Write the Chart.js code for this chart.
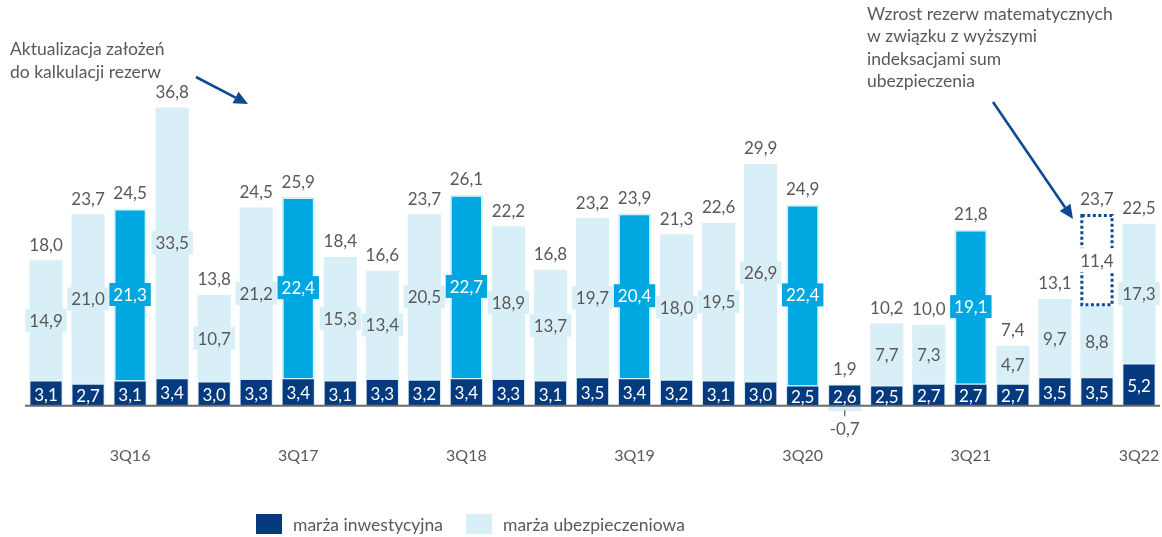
<!DOCTYPE html>
<html>
<head>
<meta charset="utf-8">
<script src="https://cdn.jsdelivr.net/npm/chart.js@4.4.1/dist/chart.umd.min.js"></script>
<style>
html,body{margin:0;padding:0;background:#fff;}
#wrap{position:relative;width:1162px;height:537px;}
</style>
</head>
<body>
<div id="wrap"><canvas id="c" width="1162" height="537"></canvas></div>
<script>
// ---- data ----
const quarters = ['1Q16','2Q16','3Q16','4Q16','1Q17','2Q17','3Q17','4Q17','1Q18','2Q18','3Q18','4Q18',
  '1Q19','2Q19','3Q19','4Q19','1Q20','2Q20','3Q20','4Q20','1Q21','2Q21','3Q21','4Q21','1Q22','2Q22','3Q22'];
const investmentMargin = [3.1,2.7,3.1,3.4,3.0,3.3,3.4,3.1,3.3,3.2,3.4,3.3,3.1,3.5,3.4,3.2,3.1,3.0,2.5,2.6,2.5,2.7,2.7,2.7,3.5,3.5,5.2];
const insuranceMargin = [14.9,21.0,21.3,33.5,10.7,21.2,22.4,15.3,13.4,20.5,22.7,18.9,13.7,19.7,20.4,18.0,19.5,26.9,22.4,-0.7,7.7,7.3,19.1,4.7,9.7,8.8,17.3];
const reserveIncrease = [null,null,null,null,null,null,null,null,null,null,null,null,null,null,null,null,null,null,null,null,null,null,null,null,null,11.4,null];
const totals = [18.0,23.7,24.5,36.8,13.8,24.5,25.9,18.4,16.6,23.7,26.1,22.2,16.8,23.2,23.9,21.3,22.6,29.9,24.9,1.9,10.2,10.0,21.8,7.4,13.1,23.7,22.5];
const highlightedQuarters = ['3Q16','3Q17','3Q18','3Q19','3Q20','3Q21'];
const axisLabels = ['3Q16','3Q17','3Q18','3Q19','3Q20','3Q21','3Q22'];
const seriesNames = ['marża inwestycyjna','marża ubezpieczeniowa'];
const noteLeft = ['Aktualizacja założeń','do kalkulacji rezerw'];
const noteRight = ['Wzrost rezerw matematycznych','w związku z wyższymi','indeksacjami sum','ubezpieczenia'];

// ---- styles ----
const NAVY = '#053b7e';
const LIGHT = '#d9eff8';
const CYAN = '#00a7e1';
const GRAY = '#595959';
const ARROW = '#0d4a93';
const FONT = 'Lato, "Open Sans", sans-serif';

const fmt = v => v.toFixed(1).replace('.', ',');
const isHi = i => highlightedQuarters.includes(quarters[i]);

function arrow(ctx, x1, y1, x2, y2) {
  const ang = Math.atan2(y2 - y1, x2 - x1);
  const L = 14, W = 6.5;
  const bx = x2 - L * Math.cos(ang), by = y2 - L * Math.sin(ang);
  ctx.strokeStyle = ARROW; ctx.fillStyle = ARROW; ctx.lineWidth = 2.6;
  ctx.beginPath(); ctx.moveTo(x1, y1); ctx.lineTo(bx, by); ctx.stroke();
  ctx.beginPath();
  ctx.moveTo(x2, y2);
  ctx.lineTo(bx + W * Math.sin(ang), by - W * Math.cos(ang));
  ctx.lineTo(bx - W * Math.sin(ang), by + W * Math.cos(ang));
  ctx.closePath(); ctx.fill();
}

const decorPlugin = {
  id: 'decor',
  afterDatasetsDraw(chart) {
    const ctx = chart.ctx;
    const y = chart.scales.y;
    const m0 = chart.getDatasetMeta(0), m1 = chart.getDatasetMeta(1), m2 = chart.getDatasetMeta(2);
    ctx.save();
    // dotted box for reserve increase
    m2.data.forEach((e, i) => {
      if (reserveIncrease[i] == null) return;
      const left = e.x - e.width / 2, right = e.x + e.width / 2;
      ctx.strokeStyle = ARROW; ctx.lineWidth = 3; ctx.setLineDash([3, 2.5]);
      ctx.strokeRect(left + 1.5, e.y + 1.5, right - left - 3, e.base - e.y - 3);
      ctx.setLineDash([]);
    });
    // zero line
    const y0 = y.getPixelForValue(0);
    ctx.strokeStyle = '#6a6a6a'; ctx.lineWidth = 2;
    ctx.beginPath(); ctx.moveTo(chart.chartArea.left, y0); ctx.lineTo(chart.chartArea.right, y0); ctx.stroke();

    ctx.font = '17px ' + FONT;
    ctx.textAlign = 'center'; ctx.textBaseline = 'middle';
    quarters.forEach((q, i) => {
      const d = m0.data[i], l = m1.data[i], r = m2.data[i];
      // investment label
      ctx.fillStyle = '#ffffff';
      ctx.fillText(fmt(investmentMargin[i]), d.x, (d.y + d.base) / 2 + 2);
      // insurance label
      const v = insuranceMargin[i];
      const txt = fmt(v);
      if (v >= 0) {
        const cy = (l.y + l.base) / 2;
        const w = ctx.measureText(txt).width + 8;
        ctx.fillStyle = isHi(i) ? CYAN : LIGHT;
        ctx.fillRect(l.x - w / 2, cy - 11.5, w, 23);
        ctx.fillStyle = isHi(i) ? '#ffffff' : GRAY;
        ctx.fillText(txt, l.x, cy + 1);
      } else {
        ctx.strokeStyle = GRAY; ctx.lineWidth = 1.2;
        ctx.beginPath(); ctx.moveTo(l.x, l.y - 1); ctx.lineTo(l.x, l.y + 5); ctx.stroke();
        ctx.fillStyle = GRAY;
        ctx.fillText(txt, l.x, l.y + 18);
      }
      // reserve label
      let top = Math.min(d.y, v > 0 ? l.y : d.y);
      if (reserveIncrease[i] != null) {
        const rtxt = fmt(reserveIncrease[i]);
        const cy = (r.y + r.base) / 2;
        const w = ctx.measureText(rtxt).width + 8;
        ctx.fillStyle = '#ffffff';
        ctx.fillRect(r.x - w / 2, cy - 12, w, 24);
        ctx.fillStyle = GRAY;
        ctx.fillText(rtxt, r.x, cy + 1);
        top = Math.min(top, r.y);
      }
      // total
      ctx.fillStyle = GRAY;
      ctx.fillText(fmt(totals[i]), d.x, top - 15);
    });
    ctx.restore();
  },
  afterDraw(chart) {
    const ctx = chart.ctx;
    ctx.save();
    ctx.font = '17.5px ' + FONT;
    ctx.fillStyle = GRAY; ctx.textAlign = 'left'; ctx.textBaseline = 'middle';
    noteLeft.forEach((t, k) => ctx.fillText(t, 10, 49 + k * 23.5));
    noteRight.forEach((t, k) => ctx.fillText(t, 867, 14 + k * 22.5));
    arrow(ctx, 196, 77, 248, 104);
    arrow(ctx, 993, 102, 1073, 219);
    // legend
    const items = [[NAVY, seriesNames[0]], [LIGHT, seriesNames[1]]];
    let x = 256;
    ctx.font = '17.5px ' + FONT;
    items.forEach(([c, t]) => {
      ctx.fillStyle = c; ctx.fillRect(x, 514, 26, 20);
      ctx.fillStyle = GRAY; ctx.fillText(t, x + 37, 525);
      x += 37 + ctx.measureText(t).width + 23;
    });
    ctx.restore();
  }
};

new Chart(document.getElementById('c'), {
  type: 'bar',
  data: {
    labels: quarters,
    datasets: [
      { label: seriesNames[0], data: investmentMargin, backgroundColor: NAVY,
        borderColor: 'rgba(200,228,242,0.9)', borderWidth: 1, stack: 's' },
      { label: seriesNames[1], data: insuranceMargin,
        backgroundColor: quarters.map((q, i) => isHi(i) ? CYAN : LIGHT),
        borderColor: LIGHT, borderWidth: quarters.map((q, i) => isHi(i) ? 2 : 0), stack: 's' },
      { label: 'reserve', data: reserveIncrease, backgroundColor: 'rgba(0,0,0,0)', borderWidth: 0, stack: 's' }
    ]
  },
  options: {
    responsive: false,
    animation: false,
    layout: { padding: { top: 50, left: 25, right: 2, bottom: 48 } },
    datasets: { bar: { barPercentage: 0.79, categoryPercentage: 1.0 } },
    plugins: { legend: { display: false }, tooltip: { enabled: false }, title: { display: false } },
    scales: {
      x: {
        stacked: true,
        grid: { display: false, drawTicks: false },
        border: { display: false },
        afterFit: (s) => { s.paddingLeft = 0; s.paddingRight = 0; },
        ticks: {
          autoSkip: false, maxRotation: 0, padding: 24,
          color: GRAY, font: { family: FONT, size: 16 },
          callback: (v, idx) => axisLabels.includes(quarters[idx]) ? quarters[idx] : ''
        }
      },
      y: { stacked: true, display: false, min: -2, max: 44 }
    }
  },
  plugins: [decorPlugin]
});
</script>
</body>
</html>
